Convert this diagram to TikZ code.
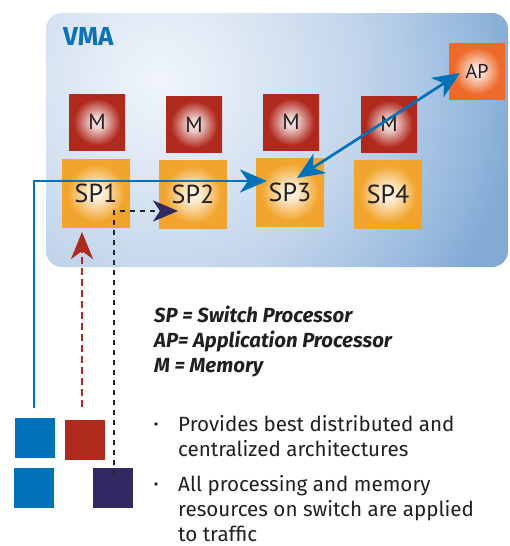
\documentclass[tikz,border=0pt]{standalone}
\usepackage{fontspec}
\setmainfont{PT Sans}
\newfontfamily\notefont{Fira Sans}
\usetikzlibrary{arrows.meta}

\definecolor{cblue}{HTML}{0072B9}
\definecolor{cred}{HTML}{B0291D}
\definecolor{cnavy}{HTML}{312A62}
\definecolor{corange}{HTML}{F2A52E}
\definecolor{capor}{HTML}{EE6A2A}
\definecolor{ctext}{HTML}{231F20}
\definecolor{cvma}{HTML}{0A72B8}

% radial fills: pale centre fading to the box colour
\pgfdeclareradialshading{memshade}{\pgfpointorigin}{color(0bp)=(cred!8!white); color(6bp)=(cred!25!white); color(21bp)=(cred); color(50bp)=(cred)}
\pgfdeclareradialshading{spshade}{\pgfpointorigin}{color(0bp)=(corange!6!white); color(6bp)=(corange!25!white); color(21bp)=(corange); color(50bp)=(corange)}
\pgfdeclareradialshading{apshade}{\pgfpointorigin}{color(0bp)=(capor!8!white); color(6bp)=(capor!28!white); color(21bp)=(capor); color(50bp)=(capor)}
\pgfdeclareradialshading{vmashade}{\pgfpointorigin}{color(0bp)=(rgb,255:red,240;green,245;blue,251); color(7bp)=(rgb,255:red,219;green,230;blue,243); color(14bp)=(rgb,255:red,194;green,213;blue,235); color(21bp)=(rgb,255:red,155;green,188;blue,223); color(25bp)=(rgb,255:red,131;green,170;blue,213); color(50bp)=(rgb,255:red,122;green,164;blue,210)}

\tikzset{
  membox/.style={rectangle, minimum size=56pt, inner sep=0pt, shading=memshade,
    font=\fontsize{22}{22}\selectfont, text=ctext},
  spbox/.style={rectangle, minimum size=68pt, inner sep=0pt, shading=spshade,
    font=\fontsize{26}{26}\selectfont, text=ctext},
  apbox/.style={rectangle, minimum size=56pt, inner sep=0pt, shading=apshade,
    font=\fontsize{20}{20}\selectfont, text=ctext},
  portsq/.style={rectangle, minimum size=40pt, inner sep=0pt},
  blueline/.style={draw=cblue, line width=2.7pt},
  legendtext/.style={anchor=base west, inner sep=0pt, text=ctext,
    font=\notefont\fontsize{20.4}{20.4}\selectfont\bfseries\itshape},
  bullettext/.style={anchor=base west, inner sep=0pt, text=ctext,
    font=\notefont\fontsize{20.6}{20.6}\selectfont},
  bulletdot/.style={circle, fill=ctext, inner sep=0pt, minimum size=3.6pt}
}

\begin{document}
\begin{tikzpicture}[x=1pt, y=-1pt]
\useasboundingbox (0,0) rectangle (510,546);

% VMA panel
\begin{scope}
  \clip[rounded corners=16pt] (46,13) rectangle (508,267);
  \shade[shading=vmashade] (-200,-280) rectangle (520,440);
\end{scope}
\node[anchor=base west, inner sep=0pt, text=cvma,
      font=\notefont\fontsize{26}{26}\selectfont\bfseries] (vma) at (63,45) {VMA};

% memories
\node[membox] (m1) at (97,122)   {M};
\node[membox] (m2) at (194,124.5) {M};
\node[membox] (m3) at (291,122)  {M};
\node[membox] (m4) at (389,124)  {M};

% switch processors
\node[spbox] (sp1) at (96,193)   {SP1};
\node[spbox] (sp2) at (193,194.5) {SP2};
\node[spbox] (sp3) at (290,192)  {SP3};
\node[spbox] (sp4) at (388,194)  {SP4};

% application processor
\node[apbox] (ap) at (477,71) {AP};

% ports
\node[portsq, fill=cblue] (pb1) at (35,438) {};
\node[portsq, fill=cred]  (pr)  at (85,440) {};
\node[portsq, fill=cblue] (pb2) at (34,488) {};
\node[portsq, fill=cnavy] (pn)  at (113,488) {};

% connector end points
\coordinate (bluestart) at (34,408);
\coordinate (bluetip)   at (267,181);
\coordinate (redstart)  at (82,407);
\coordinate (redtip)    at (82,232);
\coordinate (blackstart) at (114,475);
\coordinate (blacktip)  at (178,211);
\coordinate (sp3tip)    at (297,178);
\coordinate (aptip)     at (460,73);

% connectors
\draw[blueline, -{Stealth[length=27pt, width=23pt, inset=8pt]}]
  (bluestart) |- (bluetip);
\draw[draw=cred, line width=2.7pt, dash pattern=on 7pt off 4pt,
      -{Stealth[length=27pt, width=22pt, inset=8pt, color=cred]}]
  (redstart) -- (redtip);
\draw[draw=black!85, line width=2.6pt, dash pattern=on 5pt off 5pt,
      -{Stealth[length=25pt, width=21pt, inset=7pt, color=cnavy]}]
  (blackstart) |- (blacktip);
\draw[blueline, {Stealth[length=27pt, width=23pt, inset=8pt]}-{Stealth[length=27pt, width=23pt, inset=8pt]}]
  (sp3tip) -- (aptip);

% legend
\node[legendtext] (l1) at (154,322) {SP = Switch Processor};
\node[legendtext] (l2) at (154,347) {AP= Application Processor};
\node[legendtext] (l3) at (154,372) {M = Memory};

% bullet points
\node[bulletdot] (d1) at (156,424) {};
\node[bullettext] (t1) at (178,431) {Provides best distributed and};
\node[bullettext] (t2) at (178,456) {centralized architectures};
\node[bulletdot] (d2) at (156,484) {};
\node[bullettext] (t3) at (178,491) {All processing and memory};
\node[bullettext] (t4) at (178,516) {resources on switch are applied};
\node[bullettext] (t5) at (178,541) {to traffic};
\end{tikzpicture}
\end{document}
